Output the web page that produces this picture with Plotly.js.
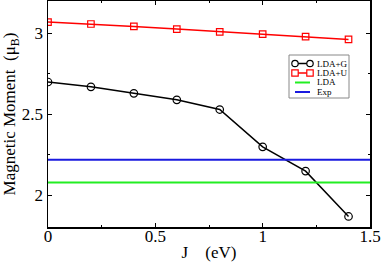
<!DOCTYPE html>
<html><head><meta charset="utf-8">
<script src="https://cdn.plot.ly/plotly-3.0.1.min.js"></script>
<style>html,body{margin:0;padding:0;background:#fff}#c{width:382px;height:262px}</style>
</head><body><div id="c"></div>
<script>
const J = [0, 0.2, 0.4, 0.6, 0.8, 1.0, 1.2, 1.4];
const ldaG = [2.70, 2.67, 2.63, 2.59, 2.53, 2.30, 2.15, 1.87];
const ldaU = [3.07, 3.058, 3.043, 3.027, 3.01, 2.996, 2.98, 2.963];
const ldaValue = 2.08;
const expValue = 2.22;
const xLine = [0, 1.5];
const seriesNames = ['LDA+G', 'LDA+U', 'LDA', 'Exp'];
const colors = ['#000000', '#ff0000', '#22ee22', '#1a1adf'];

const W = 382, H = 262;
const M = {l: 48, r: 12, t: 1, b: 35};
const pw = W - M.l - M.r, ph = H - M.t - M.b;
const px = v => (v - M.l) / pw;          // pixel -> paper x
const py = v => (H - M.b - v) / ph;      // pixel -> paper y

const traces = [
  {x: J, y: ldaG, name: seriesNames[0], mode: 'lines+markers', type: 'scatter',
   line: {color: colors[0], width: 1.5},
   marker: {symbol: 'circle-open', size: 7.5, color: colors[0], line: {width: 1.2}}},
  {x: J, y: ldaU, name: seriesNames[1], mode: 'lines+markers', type: 'scatter',
   line: {color: colors[1], width: 1.5},
   marker: {symbol: 'square-open', size: 6.5, color: colors[1], line: {width: 1.2}}},
  {x: xLine, y: xLine.map(() => ldaValue), name: seriesNames[2], mode: 'lines', type: 'scatter',
   line: {color: colors[2], width: 2}},
  {x: xLine, y: xLine.map(() => expValue), name: seriesNames[3], mode: 'lines', type: 'scatter',
   line: {color: colors[3], width: 2}}
];

const font = {family: 'Liberation Serif, Times New Roman, serif', color: '#000'};

// hand-built compact legend (Plotly's native legend rows are too tall)
const shapes = [{type: 'rect', xref: 'paper', yref: 'paper',
  x0: px(289), x1: px(349), y0: py(98), y1: py(55),
  line: {color: '#888', width: 1}, fillcolor: '#fff', layer: 'above'}];
const annotations = [];
const rowY = [63.5, 73, 82.5, 92];
const sx0 = 295, sx1 = 310;
rowY.forEach((ry, i) => {
  shapes.push({type: 'line', xref: 'paper', yref: 'paper', x0: px(sx0), x1: px(sx1),
    y0: py(ry), y1: py(ry), line: {color: colors[i], width: i < 2 ? 1.5 : 2}, layer: 'above'});
  if (i < 2) {
    [sx0, sx1].forEach(cx => shapes.push({type: i === 0 ? 'circle' : 'rect',
      xref: 'paper', yref: 'paper', xsizemode: 'pixel', ysizemode: 'pixel',
      xanchor: px(cx), yanchor: py(ry), x0: -3.2, x1: 3.2, y0: -3.2, y1: 3.2,
      line: {color: colors[i], width: 1.2}, fillcolor: '#fff', layer: 'above'}));
  }
  annotations.push({xref: 'paper', yref: 'paper', x: px(315), y: py(ry),
    xanchor: 'left', yanchor: 'middle', showarrow: false, text: seriesNames[i],
    font: Object.assign({size: 9}, font)});
});

const axisCommon = {ticks: 'inside', ticklen: 4, tickwidth: 1, tickcolor: '#000',
  showgrid: false, zeroline: false, showline: true, linecolor: '#000', linewidth: 1.5,
  mirror: 'allticks', tickfont: Object.assign({size: 17}, font),
  minor: {dtick: 0.25, ticks: 'inside', ticklen: 2, tickcolor: '#000', showgrid: false}};

const layout = {
  width: W, height: H, margin: M,
  paper_bgcolor: '#fff', plot_bgcolor: '#fff',
  font: Object.assign({size: 17}, font),
  showlegend: false,
  shapes: shapes, annotations: annotations,
  xaxis: Object.assign({range: [0, 1.5], dtick: 0.5, tick0: 0, ticklabelstandoff: -7,
    title: {text: 'J &nbsp;&nbsp;&nbsp;(eV)', font: Object.assign({size: 17}, font), standoff: 8}}, axisCommon),
  yaxis: Object.assign({range: [1.805, 3.2], dtick: 0.5, tick0: 2,
    title: {text: 'Magnetic Moment &nbsp;(\u03bc<sub>B</sub>)', font: Object.assign({size: 17}, font), standoff: 2}}, axisCommon)
};
Plotly.newPlot('c', traces, layout, {displayModeBar: false, staticPlot: true});
</script></body></html>
